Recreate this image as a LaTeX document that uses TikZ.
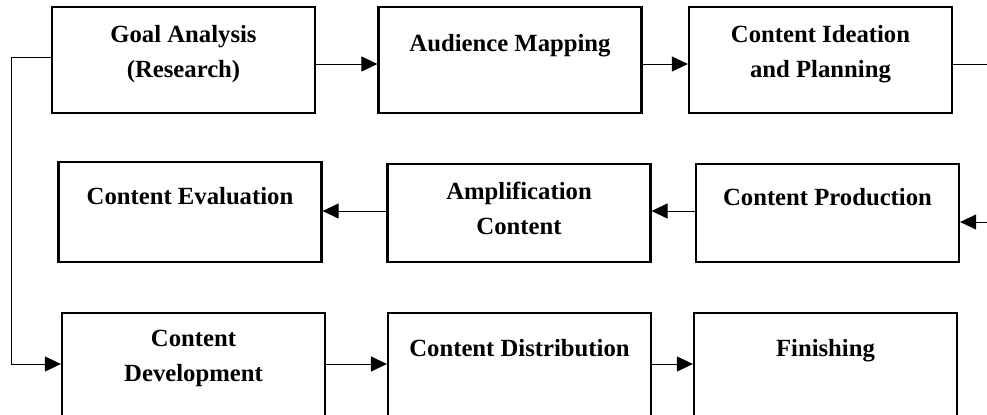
\documentclass[tikz,border=0pt]{standalone}
\usepackage{fontspec}
\setmainfont{Liberation Serif}
\usetikzlibrary{arrows.meta}
\tikzset{
  stage/.style={draw, line width=1.1pt, minimum width=131.5pt, minimum height=53pt, inner sep=0pt},
  txt/.style={font=\bfseries\fontsize{12.35}{17.5}\selectfont, align=center, inner sep=0pt},
  oneline/.style={txt, anchor=base},
  twoline/.style={txt, anchor=north},
  flow/.style={line width=0.5pt, -{Triangle[length=8pt,width=7.5pt]}}
}
\begin{document}
\begin{tikzpicture}[x=0.5pt,y=-0.5pt]
      \useasboundingbox (0,0) rectangle (987,414);
      \clip (0,0) rectangle (987,414);
      % boxes, row by row
      \node[stage] (0) at (183.5,60) {};
      \node[stage] (1) at (510,60) {};
      \node[stage] (2) at (820.5,60) {};
      \node[stage, minimum height=50pt] (5) at (190,212) {};
      \node[stage, minimum height=49pt] (4) at (519,213) {};
      \node[stage, minimum height=49pt] (3) at (827.5,213) {};
      \node[stage, minimum height=52pt] (6) at (193.5,365) {};
      \node[stage, minimum height=52pt] (7) at (519.5,365) {};
      \node[stage, minimum height=52pt] (8) at (825.5,365) {};
      % texts
      \node[twoline] (t0) at ([yshift=-9.5pt]0.north) {Goal Analysis\\(Research)};
      \node[oneline] (t1) at ([yshift=-23pt]1.north) {Audience Mapping};
      \node[twoline] (t2) at ([yshift=-9.5pt]2.north) {Content Ideation\\and Planning};
      \node[oneline] (t3) at ([yshift=-21.5pt]3.north) {Content Production};
      \node[twoline] (t4) at ([yshift=-9.5pt]4.north) {Amplification\\Content};
      \node[oneline] (t5) at ([yshift=-22pt]5.north) {Content Evaluation};
      \node[twoline] (t6) at ([yshift=-9pt]6.north) {Content\\Development};
      \node[oneline] (t7) at ([yshift=-22.5pt]7.north) {Content Distribution};
      \node[oneline] (t8) at ([yshift=-22.5pt]8.north) {Finishing};
      % free ends off the right edge and the left loop corner
      \coordinate (out) at (995,64);
      \coordinate (in) at (995,222);
      \coordinate (loop) at (11,57);
      \begin{scope}[flow]
        \draw ([yshift=-2pt]0.east) to ([yshift=-2pt]1.west);
        \draw ([yshift=-2pt]1.east) to ([yshift=-2pt]2.west);
        \draw[-] (out -| 2.east) to (out);
        \draw (in) to (in -| 3.east);
        \draw ([yshift=1pt]3.west) to ([yshift=1pt]4.east);
        \draw ([yshift=1pt]4.west) to ([yshift=1pt]4.west -| 5.east);
        \draw (loop -| 0.west) -- (loop) |- ([yshift=0.5pt]6.west);
        \draw ([yshift=0.5pt]6.east) to ([yshift=0.5pt]7.west);
        \draw ([yshift=0.5pt]7.east) to ([yshift=0.5pt]8.west);
      \end{scope}
    \end{tikzpicture}
\end{document}
